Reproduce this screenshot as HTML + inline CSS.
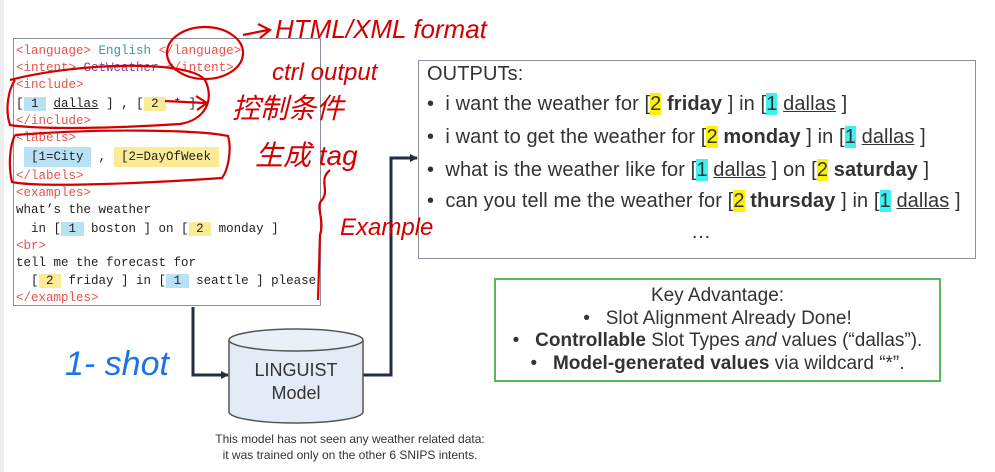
<!DOCTYPE html>
<html><head><meta charset="utf-8"><style>
body{margin:0;width:995px;height:472px;background:#fff;position:relative;overflow:hidden;font-family:"Liberation Sans","Noto Sans CJK SC",sans-serif}
.abs{position:absolute}
#code{left:13px;top:38px;width:308px;height:268px;border:1.5px solid #8a8f98;box-sizing:border-box}
.m{position:absolute;left:2px;font-family:"Liberation Mono",monospace;font-size:12.5px;color:#222;white-space:pre;line-height:14px}
.r{color:#e8514a}.t{color:#3a9a9a}.p{color:#8a3fa0}
.b{background:#b8e2f4}.y{background:#fbeb95}
#out{left:418px;top:60px;width:558px;height:199px;border:1.5px solid #8a8f98;box-sizing:border-box;color:#333}
.o{position:absolute;left:8px;font-size:20px;white-space:pre;letter-spacing:0.1px}
.hy{background:#fff200}.hc{background:#3ef0f0}
u{text-decoration-thickness:1px}
#key{left:494px;top:278px;width:447px;height:104px;border:2px solid #5cb85c;box-sizing:border-box;text-align:center;font-size:19px;color:#333;line-height:22.5px;padding-top:5px;white-space:nowrap}
</style></head><body>
<div class="abs" style="left:0;top:0;width:4px;height:472px;background:#eee"></div>
<div id="code" class="abs">
<div class="m" style="top:5px"><span class="r">&lt;language&gt;</span> <span class="t">English</span> <span class="r">&lt;/language&gt;</span></div>
<div class="m" style="top:22px"><span class="r">&lt;intent&gt;</span> <span class="p">GetWeather</span> <span class="r">&lt;/intent&gt;</span></div>
<div class="m" style="top:39px"><span class="r">&lt;include&gt;</span></div>
<div class="m" style="top:58px">[<span class="b"> 1 </span> <u>dallas</u> ] , [<span class="y"> 2 </span> * ]</div>
<div class="m" style="top:75px"><span class="r">&lt;/include&gt;</span></div>
<div class="m" style="top:92px"><span class="r">&lt;labels&gt;</span></div>
<div class="m" style="top:111px"> <span class="b" style="padding:3px 0"> [1=City </span> , <span class="y" style="padding:3px 0"> [2=DayOfWeek </span></div>
<div class="m" style="top:130px"><span class="r">&lt;/labels&gt;</span></div>
<div class="m" style="top:147px"><span class="r">&lt;examples&gt;</span></div>
<div class="m" style="top:164px">what’s the weather</div>
<div class="m" style="top:183px">  in [<span class="b"> 1 </span> boston ] on [<span class="y"> 2 </span> monday ]</div>
<div class="m" style="top:200px"><span class="r">&lt;br&gt;</span></div>
<div class="m" style="top:217px">tell me the forecast for</div>
<div class="m" style="top:235px">  [<span class="y"> 2 </span> friday ] in [<span class="b"> 1 </span> seattle ] please</div>
<div class="m" style="top:252px"><span class="r">&lt;/examples&gt;</span></div>
</div>

<div id="out" class="abs">
<div class="o" style="top:2px">OUTPUTs:</div>
<div class="o" style="top:32px">•  i want the weather for [<span class="hy">2</span> <b>friday</b> ] in [<span class="hc">1</span> <u>dallas</u> ]</div>
<div class="o" style="top:65px">•  i want to get the weather for [<span class="hy">2</span> <b>monday</b> ] in [<span class="hc">1</span> <u>dallas</u> ]</div>
<div class="o" style="top:98px">•  what is the weather like for [<span class="hc">1</span> <u>dallas</u> ] on [<span class="hy">2</span> <b>saturday</b> ]</div>
<div class="o" style="top:129px">•  can you tell me the weather for [<span class="hy">2</span> <b>thursday</b> ] in [<span class="hc">1</span> <u>dallas</u> ]</div>
<div class="o" style="top:160px;left:272px">…</div>
</div>

<div id="key" class="abs">Key Advantage:<br>•&nbsp;&nbsp; Slot Alignment Already Done!<br>•&nbsp;&nbsp; <b>Controllable</b> Slot Types <i>and</i> values (“dallas”).<br>•&nbsp;&nbsp; <b>Model-generated values</b> via wildcard “*”.</div>

<svg class="abs" style="left:0;top:0" width="995" height="472">
<defs><marker id="a" markerWidth="8" markerHeight="8" refX="7" refY="4" orient="auto" markerUnits="userSpaceOnUse"><path d="M0,0 L8,4 L0,8z" fill="#232f3e"/></marker></defs>
<path d="M193,307 V375 H228" fill="none" stroke="#232f3e" stroke-width="3" marker-end="url(#a)"/>
<path d="M363,375 H391 V158 H417" fill="none" stroke="#232f3e" stroke-width="3" marker-end="url(#a)"/>
<path d="M229,340 V412 A67,11 0 0 0 363,412 V340" fill="#e3ecf6" stroke="#555" stroke-width="1.5"/>
<ellipse cx="296" cy="340" rx="67" ry="11" fill="#e9f0f8" stroke="#555" stroke-width="1.5"/>
<text x="296" y="376" text-anchor="middle" font-size="18" fill="#333" font-family="Liberation Sans">LINGUIST</text>
<text x="296" y="399" text-anchor="middle" font-size="18" fill="#333" font-family="Liberation Sans">Model</text>
<text x="350" y="443" text-anchor="middle" font-size="12" fill="#333" font-family="Liberation Sans">This model has not seen any weather related data:</text>
<text x="350" y="459" text-anchor="middle" font-size="12" fill="#333" font-family="Liberation Sans">it was trained only on the other 6 SNIPS intents.</text>
<g fill="none" stroke="#d40000" stroke-width="2.2">
<ellipse cx="205" cy="53" rx="38" ry="26"/>
<path d="M243,35 L268,30 M258,24 L270,30 L260,38"/>
<path d="M10,80 C80,62 190,60 205,80 C215,100 205,120 180,124 C120,128 40,130 10,125 C5,110 8,90 15,80"/>
<path d="M165,101 L205,103 M196,96 L207,103 L197,110"/>
<path d="M15,135 C100,128 200,130 228,136 C232,150 228,170 222,178 C150,183 40,188 12,182 C8,165 10,145 15,135"/>
<path d="M330,170 C318,180 330,190 322,200 C315,206 325,220 320,235 L318,300"/>
</g>
<g fill="#d40000" font-family="Liberation Sans,Noto Sans CJK SC,sans-serif" font-style="italic">
<text x="275" y="38" font-size="26">HTML/XML format</text>
<text x="272" y="80" font-size="24">ctrl  output</text>
<text x="232" y="118" font-size="28">控制条件</text>
<text x="255" y="165" font-size="28">生成 tag</text>
<text x="340" y="235" font-size="24">Example</text>
</g>
<text x="65" y="375" font-size="34" fill="#1a73e8" font-family="Liberation Sans" font-style="italic">1- shot</text>
</svg>
</body></html>
